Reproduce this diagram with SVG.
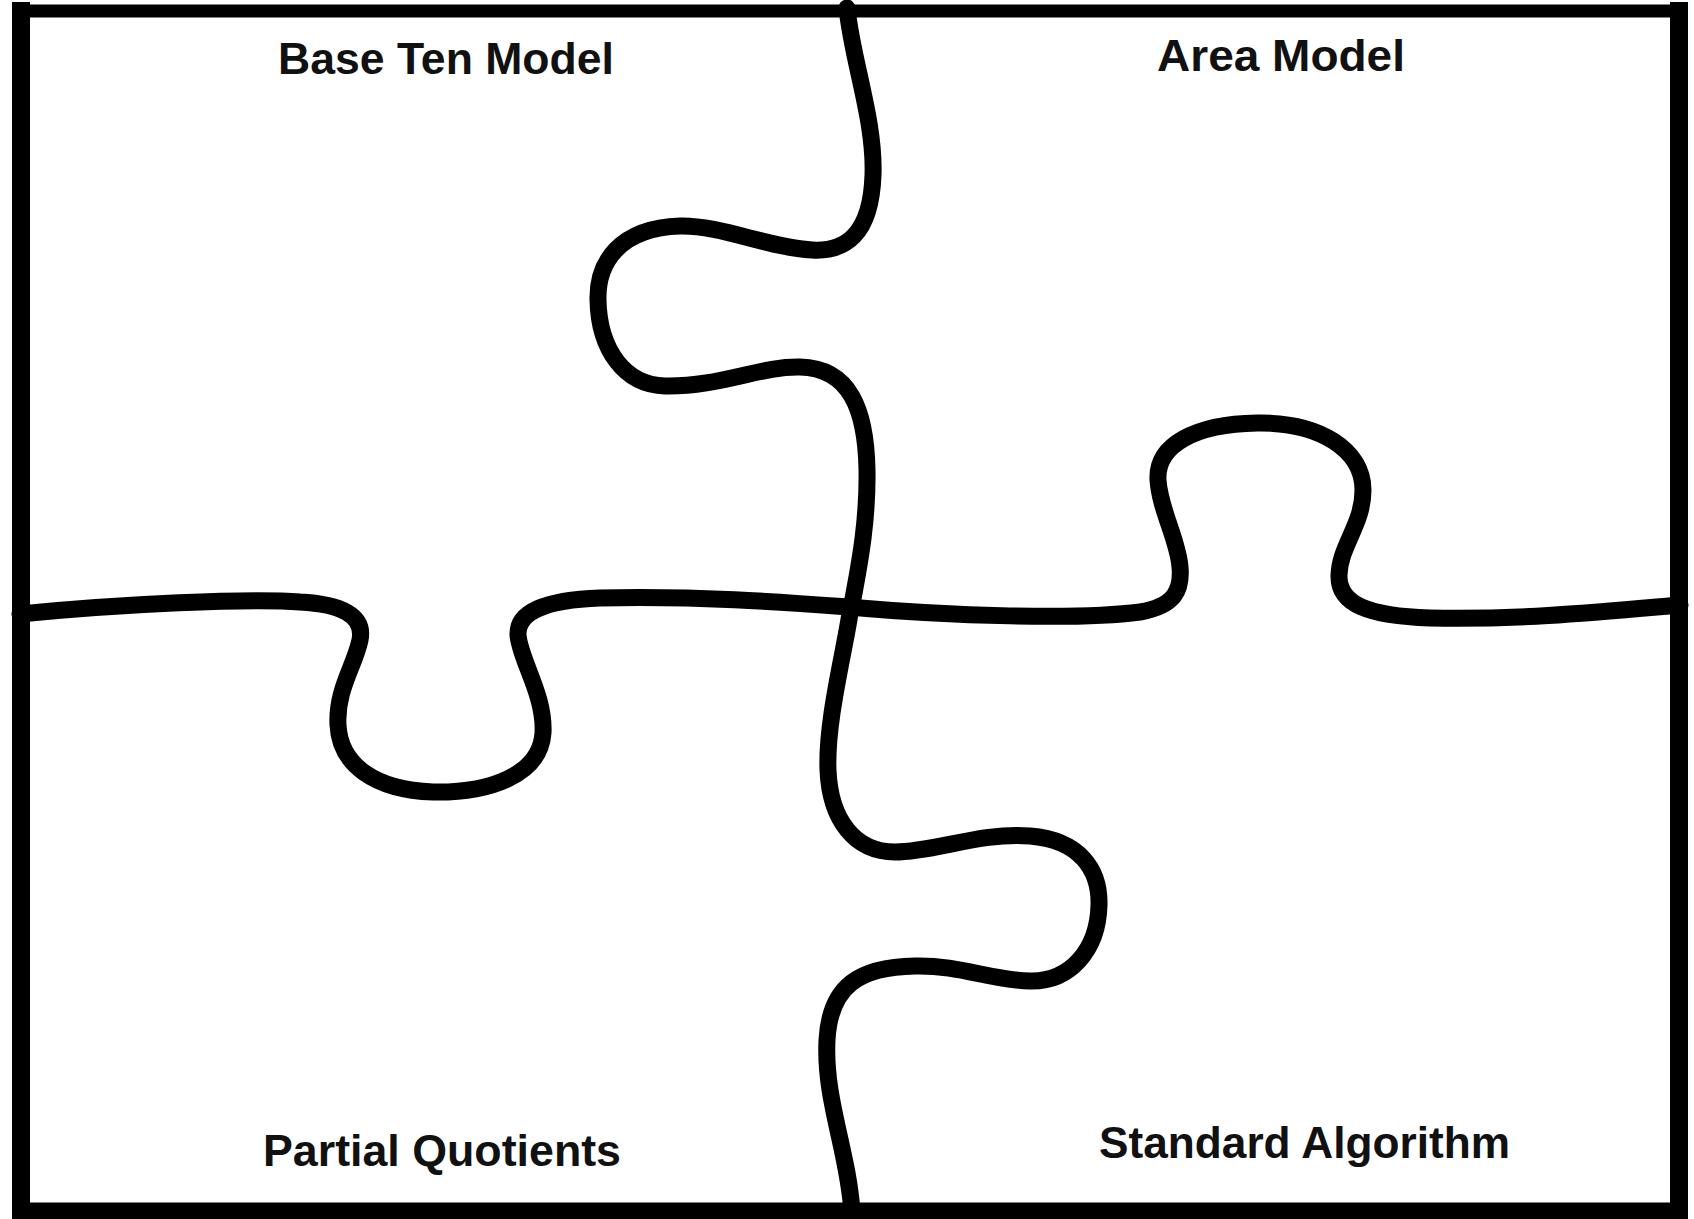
<svg xmlns="http://www.w3.org/2000/svg" width="1694" height="1219" viewBox="0 0 1694 1219">
  <style>
    .edge { fill: none; stroke: #000; stroke-width: 17; stroke-linecap: round; stroke-linejoin: round; }
    .frame { fill: none; stroke: #000; stroke-linecap: square; }
    .label { font-family: "Liberation Sans", Arial, sans-serif; font-weight: bold; font-size: 44px; fill: #111; }
  </style>
  <rect width="1694" height="1219" fill="#fff"/>
  <g id="frame">
    <line class="frame" x1="21" y1="11" x2="1679" y2="11" stroke-width="13"/>
    <line class="frame" x1="21" y1="11" x2="21" y2="1211" stroke-width="18"/>
    <line class="frame" x1="1679" y1="11" x2="1679" y2="1211" stroke-width="18"/>
    <line class="frame" x1="21" y1="1211" x2="1679" y2="1211" stroke-width="17"/>
  </g>
  <g id="connectors">
    <path id="top-divider" class="edge" d="M 847 8 C 852 60, 875 120, 873 175 C 871 235, 845 252, 812 250 C 770 248, 720 225, 680 226 C 620 228, 597 262, 598 300 C 599 350, 625 385, 665 386 C 720 387, 760 366, 800 367 C 850 368, 866 410, 867 470 C 868 530, 856 580, 851 610"/>
    <path id="bottom-divider" class="edge" d="M 851 607 C 845 650, 826 720, 828 770 C 830 820, 855 852, 895 852 C 935 852, 980 832, 1030 836 C 1080 840, 1100 870, 1099 905 C 1098 950, 1070 982, 1030 981 C 990 980, 960 965, 915 966 C 860 967, 830 985, 827 1040 C 824 1100, 848 1150, 852 1212"/>
    <path id="left-divider" class="edge" d="M 20 614 C 120 604, 250 598, 300 602 C 340 604, 365 615, 360 640 C 355 665, 336 690, 338 725 C 340 765, 375 790, 433 792 C 490 793, 540 775, 543 733 C 545 695, 520 660, 518 635 C 517 612, 545 600, 600 598 C 700 596, 780 602, 848 607"/>
    <path id="right-divider" class="edge" d="M 848 607 C 950 616, 1080 620, 1140 612 C 1175 606, 1182 590, 1180 567 C 1178 540, 1160 510, 1158 480 C 1156 445, 1195 424, 1257 423 C 1320 422, 1363 450, 1363 490 C 1363 525, 1340 545, 1339 575 C 1338 605, 1370 616, 1430 618 C 1520 620, 1600 612, 1680 605"/>
  </g>
  <g id="base-ten-model">
    <text class="label" x="278" y="74" textLength="336" lengthAdjust="spacingAndGlyphs">Base Ten Model</text>
  </g>
  <g id="area-model">
    <text class="label" x="1157" y="71" textLength="248" lengthAdjust="spacingAndGlyphs">Area Model</text>
  </g>
  <g id="partial-quotients">
    <text class="label" x="263" y="1166" textLength="358" lengthAdjust="spacingAndGlyphs">Partial Quotients</text>
  </g>
  <g id="standard-algorithm">
    <text class="label" x="1099" y="1158" textLength="411" lengthAdjust="spacingAndGlyphs">Standard Algorithm</text>
  </g>
</svg>
